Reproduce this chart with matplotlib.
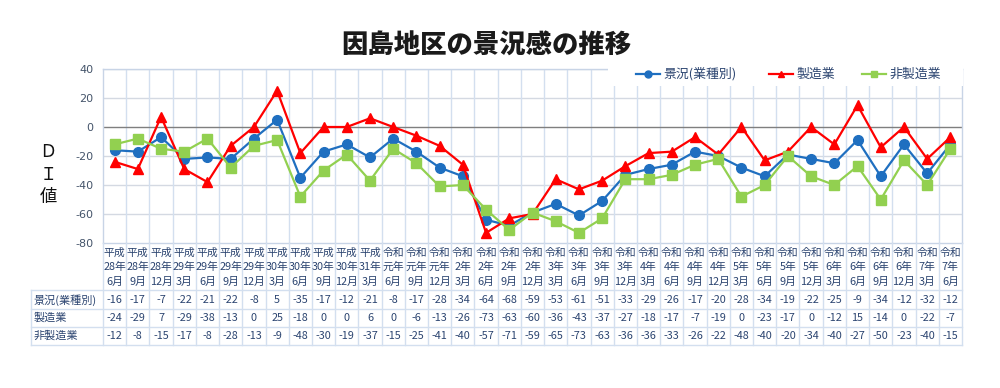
import matplotlib
matplotlib.use("Agg")
import matplotlib.pyplot as plt
from matplotlib.lines import Line2D
from matplotlib.patches import Rectangle
import matplotlib.transforms as mtransforms

plt.rcParams['font.family'] = ['Noto Sans CJK JP', 'DejaVu Sans']

categories = [
    "平成\n28年\n6月", "平成\n28年\n9月", "平成\n28年\n12月", "平成\n29年\n3月", "平成\n29年\n6月",
    "平成\n29年\n9月", "平成\n29年\n12月", "平成\n30年\n3月", "平成\n30年\n6月", "平成\n30年\n9月",
    "平成\n30年\n12月", "平成\n31年\n3月", "令和\n元年\n6月", "令和\n元年\n9月", "令和\n元年\n12月",
    "令和\n2年\n3月", "令和\n2年\n6月", "令和\n2年\n9月", "令和\n2年\n12月", "令和\n3年\n3月",
    "令和\n3年\n6月", "令和\n3年\n9月", "令和\n3年\n12月", "令和\n4年\n3月", "令和\n4年\n6月",
    "令和\n4年\n9月", "令和\n4年\n12月", "令和\n5年\n3月", "令和\n5年\n6月", "令和\n5年\n9月",
    "令和\n5年\n12月", "令和\n6年\n3月", "令和\n6年\n6月", "令和\n6年\n9月", "令和\n6年\n12月",
    "令和\n7年\n3月", "令和\n7年\n6月",
]
series_names = ["景況(業種別)", "製造業", "非製造業"]
keikyo = [-16, -17, -7, -22, -21, -22, -8, 5, -35, -17, -12, -21, -8, -17, -28, -34, -64, -68, -59,
          -53, -61, -51, -33, -29, -26, -17, -20, -28, -34, -19, -22, -25, -9, -34, -12, -32, -12]
seizo = [-24, -29, 7, -29, -38, -13, 0, 25, -18, 0, 0, 6, 0, -6, -13, -26, -73, -63, -60,
         -36, -43, -37, -27, -18, -17, -7, -19, 0, -23, -17, 0, -12, 15, -14, 0, -22, -7]
hiseizo = [-12, -8, -15, -17, -8, -28, -13, -9, -48, -30, -19, -37, -15, -25, -41, -40, -57, -71, -59,
           -65, -73, -63, -36, -36, -33, -26, -22, -48, -40, -20, -34, -40, -27, -50, -23, -40, -15]
yticks = [40, 20, 0, -20, -40, -60, -80]

W, H = 1000, 388
fig = plt.figure(figsize=(W / 100, H / 100), dpi=100)

def fy(py):
    return 1 - py / H

def fx(px):
    return px / W

ax_left, ax_right, ax_top, ax_bot = 103, 962, 69, 243
ax = fig.add_axes([fx(ax_left), fy(ax_bot), fx(ax_right - ax_left), (ax_bot - ax_top) / H])

n = len(categories)
xs = list(range(n))
blue = '#1F6FC0'
red = '#FF0000'
green = '#92D050'
navy = '#2B4470'
gridc = '#D3DFEF'

ax.set_xlim(-0.5, n - 0.5)
ax.set_ylim(-80, 40)
ax.set_yticks(yticks)
ax.set_yticklabels([str(v) for v in yticks], fontsize=8, color='#44546A', family='DejaVu Sans')
ax.tick_params(axis='y', length=0, pad=7)
ax.set_xticks([])
for v in [40, 20, -20, -40, -60]:
    ax.axhline(v, color='#D4D9E2', lw=1.0, zorder=0)
for k in range(1, n):
    ax.axvline(k - 0.5, color=gridc, lw=1.0, zorder=0)
ax.axhline(0, color='#7F7F7F', lw=1.0, zorder=1)
for s in ax.spines.values():
    s.set_color('#C8D4E6')
    s.set_linewidth(1.0)

ax.plot(xs, keikyo, color=blue, lw=1.6, marker='o', ms=7, zorder=3)
ax.plot(xs, seizo, color=red, lw=1.6, marker='^', ms=7.5, zorder=4)
ax.plot(xs, hiseizo, color=green, lw=1.6, marker='s', ms=7, zorder=5)

# Title
fig.text(fx(486), fy(45), "因島地区の景況感の推移", ha='center', va='center',
         fontsize=19, fontweight='heavy', color='#1A1A1A')

# Y label
for ch, py in [("Ｄ", 152), ("Ｉ", 175), ("値", 197)]:
    fig.text(fx(48), fy(py), ch, ha='center', va='center', fontsize=12.5, color='#111111')

# Legend (manual)
fig.patches.append(Rectangle((fx(608), fy(86)), fx(962 - 608) + 0.001, (86 - 60) / H,
                             transform=fig.transFigure, facecolor='white', edgecolor='none', zorder=10))
leg_items = [(636, 660, 663, blue, 'o', series_names[0]),
             (769, 793, 797, red, '^', series_names[1]),
             (862, 886, 889, green, 's', series_names[2])]
for x0, x1, xt, c, m, lab in leg_items:
    fig.add_artist(Line2D([fx(x0), fx(x1)], [fy(74), fy(74)], transform=fig.transFigure,
                          color=c, lw=1.6, zorder=11))
    fig.add_artist(Line2D([fx((x0 + x1) / 2)], [fy(74)], transform=fig.transFigure,
                          color=c, marker=m, ms=5, zorder=12))
    fig.text(fx(xt), fy(74), lab, ha='left', va='center', fontsize=9.3, color=navy, zorder=12)

# Data table
bt = mtransforms.blended_transform_factory(ax.transData, fig.transFigure)
tab_left = 31
row_lines = [290, 309, 327, 345]
row_centers = [300, 318, 336]
tbl_top = ax_bot
for k in range(0, n + 1):
    xk = k - 0.5
    fig.add_artist(Line2D([xk, xk], [fy(tbl_top), fy(row_lines[-1])], transform=bt,
                          color=gridc, lw=1.0))
for py in row_lines:
    fig.add_artist(Line2D([fx(tab_left), fx(ax_right)], [fy(py), fy(py)],
                          transform=fig.transFigure, color=gridc, lw=1.0))
fig.add_artist(Line2D([fx(tab_left), fx(tab_left)], [fy(row_lines[0]), fy(row_lines[-1])],
                      transform=fig.transFigure, color=gridc, lw=1.0))

for i, lab in enumerate(categories):
    parts = lab.split("\n")
    for j, (p, py) in enumerate(zip(parts, [253, 267, 282])):
        fig.text(i, fy(py), p, transform=bt, ha='center', va='center', fontsize=7.8, color=navy)

for r, (name, vals) in enumerate(zip(series_names, [keikyo, seizo, hiseizo])):
    fig.text(fx(34), fy(row_centers[r]), name, ha='left', va='center', fontsize=8, color=navy)
    for i, v in enumerate(vals):
        fig.text(i, fy(row_centers[r]), str(v), transform=bt, ha='center', va='center',
                 fontsize=7.8, color=navy)

fig.savefig("out.png", dpi=100, facecolor='white')
